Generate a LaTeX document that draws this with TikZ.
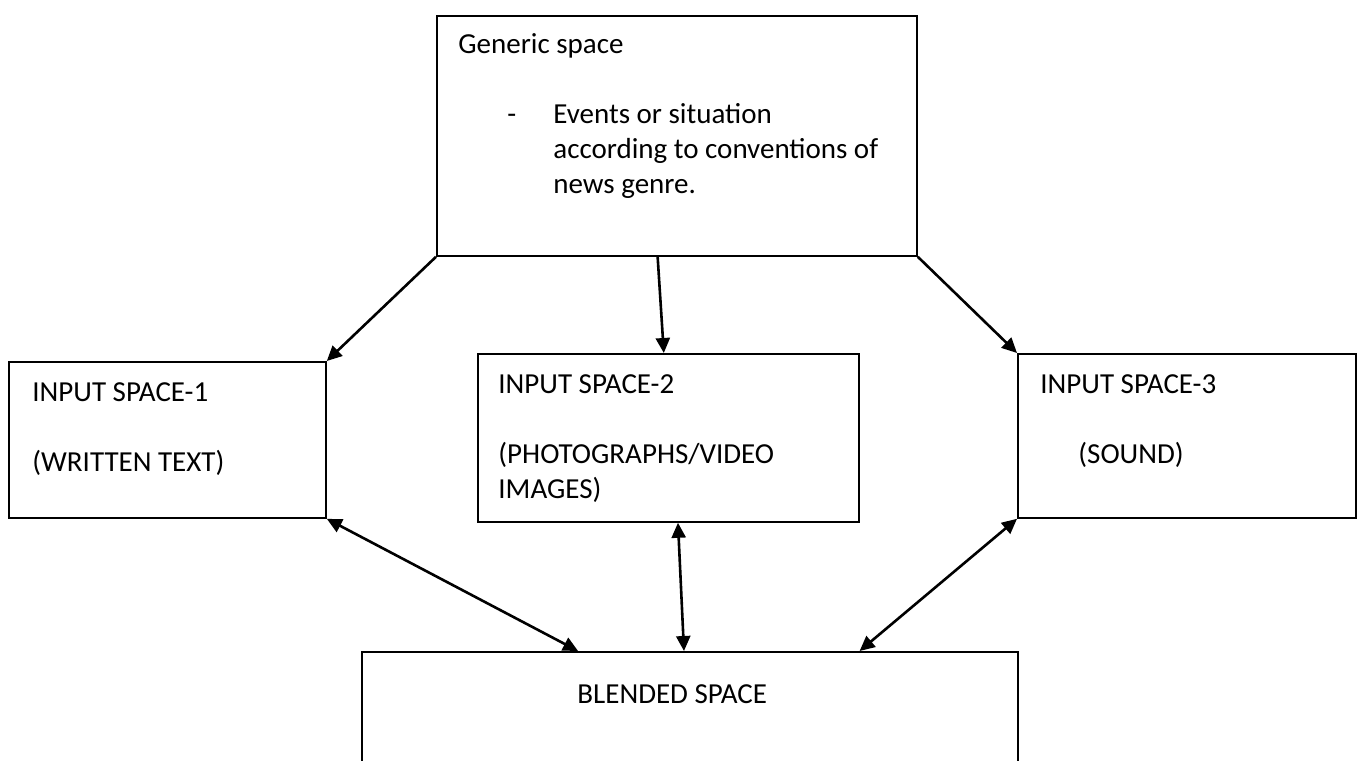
\documentclass[tikz,border=0pt]{standalone}
\usepackage{fontspec}
\setmainfont{Carlito}
\usetikzlibrary{positioning,arrows.meta,calc}

\begin{document}
\begin{tikzpicture}[
    x=0.5pt, y=-0.5pt,
    spacebox/.style={draw, line width=0.9pt, inner sep=0pt, anchor=north west},
    lbl/.style={inner sep=0pt, align=left, font=\fontsize{14.5}{17.5}\selectfont},
    arrow/.style={-{Triangle[length=7.5pt,width=7pt]}, line width=1.3pt},
    twoway/.style={{Triangle[length=7.5pt,width=7pt]}-{Triangle[length=7.5pt,width=7pt]}, line width=1.3pt}
]
\useasboundingbox (0,0) rectangle (1358,760);

% Generic space at the top
\node[spacebox, minimum width=240pt, minimum height=120pt] (gen) at (436,15) {};
\node[lbl, below right=6.75pt and 11pt of gen.north west] (gentitle) {\strut Generic space};
\node[lbl, below right=41.75pt and 35.5pt of gen.north west] (gendash) {\strut -};
\node[lbl, below right=41.75pt and 58.5pt of gen.north west] (genitem) {\strut Events or situation\\\strut according to conventions of\\\strut news genre.};

% Input spaces - middle row
\node[spacebox, minimum width=158.5pt, minimum height=78pt] (in1) at (8,361) {};
\node[lbl, below right=7.75pt and 12pt of in1.north west] (in1txt) {\strut INPUT SPACE-1\\[17.5pt]\strut (WRITTEN TEXT)};

\node[spacebox, minimum width=190.5pt, minimum height=84pt] (in2) at (477,353) {};
\node[lbl, below right=7.75pt and 10.5pt of in2.north west] (in2txt) {\strut INPUT SPACE-2\\[17.5pt]\strut (PHOTOGRAPHS/VIDEO\\\strut IMAGES)};

\node[spacebox, minimum width=169pt, minimum height=82pt] (in3) at (1017,353) {};
\node[lbl, below right=7.75pt and 11.5pt of in3.north west] (in3txt) {\strut INPUT SPACE-3\\[17.5pt]\strut\hspace{19pt}(SOUND)};

% Blended space at the bottom (runs off the page)
\node[spacebox, minimum width=328pt, minimum height=90pt] (blend) at (361,651) {};
\node[lbl, below right=13.75pt and 108pt of blend.north west] (blendtxt) {\strut BLENDED SPACE};

% Points on the box edges
\coordinate (genmid) at ($(gen.south west)!0.46!(gen.south east)$);
\coordinate (in2top) at ($(in2.north west)!0.488!(in2.north east)$);
\coordinate (in2bot) at ($(in2.south west)!0.525!(in2.south east)$);
\coordinate (blend1) at ($(blend.north west)!0.33!(blend.north east)$);
\coordinate (blend2) at ($(blend.north west)!0.491!(blend.north east)$);
\coordinate (blend3) at ($(blend.north west)!0.758!(blend.north east)$);

% Arrows
\draw[arrow] (gen.south west) -- (in1.north east);
\draw[arrow] (genmid) -- (in2top);
\draw[arrow] (gen.south east) -- (in3.north west);
\draw[twoway] (in1.south east) -- (blend1);
\draw[twoway] (in2bot) -- (blend2);
\draw[twoway] (in3.south west) -- (blend3);

\end{tikzpicture}
\end{document}
